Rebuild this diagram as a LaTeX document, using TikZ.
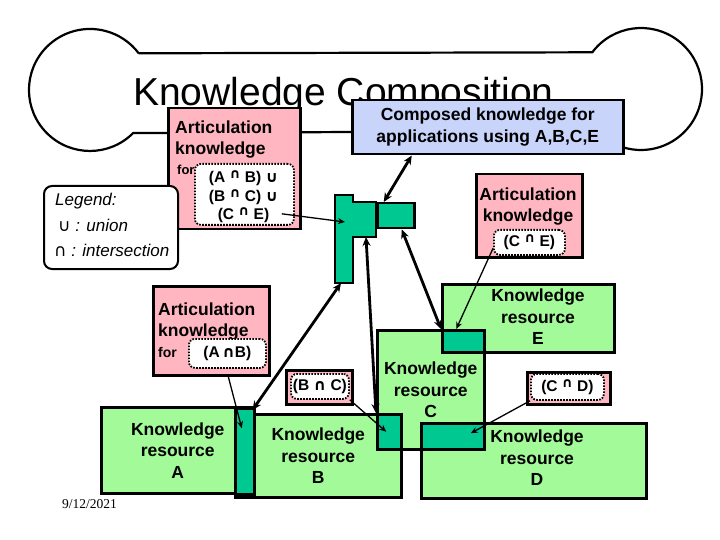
\documentclass[tikz,border=0pt]{standalone}
\usepackage{fontspec}
\setmainfont{Liberation Sans}
\newfontfamily\symfont{DejaVu Sans}
\newfontfamily\datefont{Liberation Serif}
\usetikzlibrary{arrows.meta}

\definecolor{resgreen}{RGB}{163,250,152}
\definecolor{overteal}{RGB}{0,200,145}
\definecolor{artpink}{RGB}{255,182,193}
\definecolor{compblue}{RGB}{200,212,250}

\newcommand{\isect}{{\upshape\symfont ∩}}
\newcommand{\isectup}{\raisebox{0.45ex}{\fontsize{13.5}{13.5}\selectfont\upshape\symfont ∩}}
\newcommand{\union}{{\upshape\symfont ∪}}

\tikzset{
  kbox/.style={draw, line width=2.5pt, rectangle, inner sep=0pt, anchor=north west, align=center},
  kres/.style={kbox, fill=resgreen, font=\fontsize{17.5}{21.5}\selectfont\bfseries},
  kover/.style={kbox, fill=overteal},
  kartic/.style={kbox, fill=artpink},
  ktag/.style={draw, line width=1.8pt, dash pattern=on 1.6pt off 1.4pt, fill=white, rounded corners=6pt, inner sep=0pt, anchor=north west, align=center, font=\fontsize{15.5}{18.5}\selectfont\bfseries},
  ktext/.style={inner sep=0pt, align=center, font=\fontsize{17.5}{21.5}\selectfont\bfseries},
  klegend/.style={inner sep=0pt, anchor=base west, font=\fontsize{17}{20}\selectfont\itshape},
  klink/.style={-{Stealth[length=7pt,width=6pt]}, line width=1.3pt},
  kdlink/.style={{Stealth[length=9pt,width=8pt]}-{Stealth[length=9pt,width=8pt]}, line width=2.8pt},
}

\begin{document}
\begin{tikzpicture}[x=1pt, y=1pt]
\useasboundingbox (0,0) rectangle (720,-540);
% bone shaped frame
\draw[line width=2.2pt] (90,-90) ++(37:61) -- (592.3,-52.3) arc[start angle=143, end angle=-107, radius=61] -- (351,-132) -- (133.1,-133.1) arc[start angle=-45, end angle=-323, radius=61];
\node[inner sep=0pt, anchor=base west, font=\fontsize{39}{42}\selectfont] (title) at (133,-106) {Knowledge Composition};

% articulation for the composed knowledge
\node[kartic, minimum width=132pt, minimum height=121pt] (artTL) at (167,-107) {};
\node[ktext, anchor=north west, align=left] (artTLtxt) at (175,-120.5) {Articulation\\knowledge};
\node[inner sep=0pt, anchor=base west, font=\fontsize{13}{13}\selectfont\bfseries] (forTL) at (177,-175) {for};
\node[ktag, minimum width=99pt, minimum height=61pt] (unionTL) at (194,-163) {};
\node[inner sep=0pt, align=center, font=\fontsize{15.5}{18.5}\selectfont\bfseries] (unionTLtxt) at (243.5,-197) {(A \isectup{} B) \union\\(B \isectup{} C) \union\\(C \isectup{} E)};

\node[draw, line width=2pt, fill=white, rounded corners=8pt, anchor=north west, minimum width=134pt, minimum height=83pt, inner sep=0pt] (legend) at (43,-185) {};
\node[klegend] (legendTitle) at (55,-206) {Legend:};
\node[klegend] (legendUnion) at (58,-232) {\union{} : union};
\node[klegend] (legendIsect) at (54,-256) {\isect{} : intersection};

\node[kbox, fill=compblue, font=\fontsize{17.5}{21.5}\selectfont\bfseries, minimum width=271pt, minimum height=54pt] (composed) at (351,-99) {Composed knowledge for\\applications using A,B,C,E};

\node[kartic, minimum width=106pt, minimum height=83pt] (artCE) at (475,-173) {};
\node[ktext, anchor=north] (artCEtxt) at (528,-187.5) {Articulation\\knowledge};
\node[ktag, minimum width=71pt, minimum height=25pt] (ceTag) at (493,-229) {(C \isectup{} E)};

% composed pieces
\draw[line width=2.5pt, fill=overteal] (335,-195) -- (353,-195) -- (353,-202) -- (376,-202) -- (376,-237) -- (353,-237) -- (353,-283) -- (335,-283) -- cycle;
\node[kover, minimum width=37pt, minimum height=25pt] (compCE) at (376,-202) {};
\coordinate (compL) at (345,-222);
\coordinate (compLbot) at (341,-283);
\coordinate (compLnotch) at (366,-237);

\node[kartic, minimum width=116pt, minimum height=89pt] (artAB) at (152,-285) {};
\node[ktext, anchor=north west, align=left] (artABtxt) at (158,-302.5) {Articulation\\knowledge};
\node[inner sep=0pt, anchor=base west, font=\fontsize{14}{14}\selectfont\bfseries] (forAB) at (158,-357) {for};
\node[ktag, minimum width=77pt, minimum height=29pt] (abTag) at (188,-338) {(A\,\isect B)};

\node[kartic, minimum width=66pt, minimum height=34pt] (bcBox) at (285,-369) {};
\node[ktag, minimum width=58pt, minimum height=25pt] (bcTag) at (290,-373) {(B \isect{} C)};
\node[kartic, minimum width=83pt, minimum height=32pt] (cdBox) at (526,-371) {};
\node[ktag, minimum width=73pt, minimum height=26pt] (cdTag) at (530,-373) {(C \isectup{} D)};

% knowledge resources
\node[kres, minimum width=153pt, minimum height=86pt] (resA) at (100,-406) {Knowledge\\resource\\A};
\node[kres, minimum width=166pt, minimum height=83pt] (resB) at (234,-413) {Knowledge\\resource\\B};
\node[kres, minimum width=107pt, minimum height=119pt] (resC) at (376,-329) {Knowledge\\resource\\C};
\node[kres, minimum width=172pt, minimum height=68pt] (resE) at (441,-283) {};
\node[ktext] (resEtxt) at (538,-317) {Knowledge\\resource\\E};
\node[kres, minimum width=225pt, minimum height=75pt] (resD) at (420,-422) {};
\node[ktext] (resDtxt) at (537,-458) {Knowledge\\resource\\D};

\node[kover, minimum width=19pt, minimum height=86pt] (abStrip) at (234,-407) {};
\node[kover, minimum width=24pt, minimum height=35pt] (bcStrip) at (376,-413) {};
\node[kover, minimum width=42pt, minimum height=22pt] (ceStrip) at (441,-329) {};
\node[kover, minimum width=63pt, minimum height=26pt] (cdStrip) at (420,-422) {};

% links
\draw[klink] ([shift={(-13pt,12pt)}]unionTL.south east) -- (compL);
\draw[kdlink] ([xshift=-76pt]composed.south) -- ([xshift=-12pt]compCE.north);
\draw[klink] ([xshift=17pt]artAB.south) -- ([shift={(-3pt,23pt)}]abStrip.center);
\draw[kdlink] ([shift={(-3pt,-3pt)}]abStrip.north east) -- (compLbot);
\draw[klink] (bcTag.south east) -- ([xshift=-3pt]bcStrip.center);
\draw[kdlink] (bcStrip.north west) -- (compLnotch);
\draw[kdlink] (ceStrip.north west) -- ([xshift=6pt]compCE.south);
\draw[klink] ([yshift=-6pt]ceTag.west) -- ([xshift=-7pt]ceStrip.north);
\draw[klink] (cdTag.south west) -- ([shift={(18pt,3pt)}]cdStrip.center);

\node[inner sep=0pt, anchor=base west, font=\datefont\fontsize{13.5}{14}\selectfont] (date) at (62,-508) {9/12/2021};
\end{tikzpicture}
\end{document}
